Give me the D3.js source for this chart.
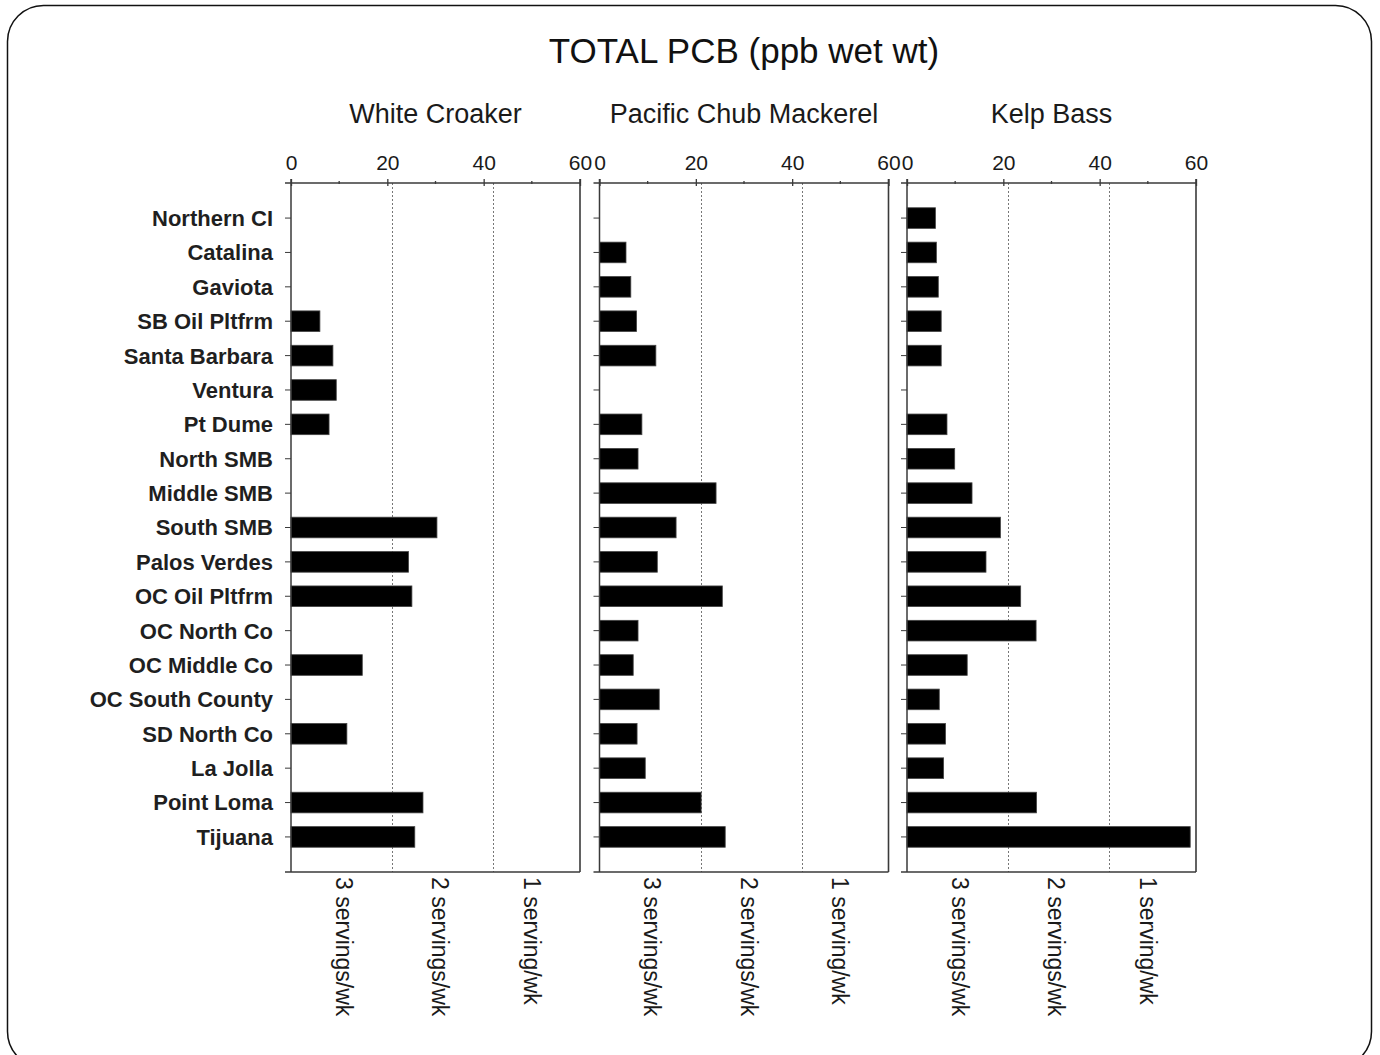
<!DOCTYPE html>
<html>
<head>
<meta charset="utf-8">
<script src="https://cdn.jsdelivr.net/npm/d3@7"></script>
<style>
  html, body { margin: 0; padding: 0; background: #fff; }
  svg { display: block; }
  text { font-family: "Liberation Sans", Arial, sans-serif; fill: #111; }
</style>
</head>
<body>
<svg id="chart" width="1380" height="1055"></svg>
<script>
// ---------------- data ----------------
const title = "TOTAL PCB (ppb wet wt)";
const species = ["White Croaker", "Pacific Chub Mackerel", "Kelp Bass"];
const stations = ["Northern CI", "Catalina", "Gaviota", "SB Oil Pltfrm", "Santa Barbara", "Ventura",
  "Pt Dume", "North SMB", "Middle SMB", "South SMB", "Palos Verdes", "OC Oil Pltfrm", "OC North Co",
  "OC Middle Co", "OC South County", "SD North Co", "La Jolla", "Point Loma", "Tijuana"];
const whiteCroaker = [null, null, null, 6.0, 8.7, 9.4, 7.9, null, null, 30.3, 24.4, 25.1, null,
  14.8, null, 11.6, null, 27.4, 25.7];
const pacificChubMackerel = [null, 5.5, 6.5, 7.7, 11.7, null, 8.8, 8.0, 24.2, 15.9, 12.0, 25.5, 8.0,
  7.0, 12.4, 7.8, 9.5, 21.1, 26.1];
const kelpBass = [5.9, 6.1, 6.5, 7.1, 7.1, null, 8.3, 9.9, 13.5, 19.4, 16.4, 23.6, 26.8,
  12.5, 6.7, 8.0, 7.6, 26.9, 58.8];
const xTicks = [0, 20, 40, 60];
const xMinorTicks = [10, 30, 50];
const thresholds = [21, 42];
const servingLabels = ["3 servings/wk", "2 servings/wk", "1 serving/wk"];
const servingLabelPos = [11, 31, 50];
const seriesList = [whiteCroaker, pacificChubMackerel, kelpBass];

// ---------------- layout ----------------
const svg = d3.select("#chart");
const panelX0 = [291, 599.5, 907];
const panelW = 289;
const plotTop = 183, plotBottom = 872;
const axisColor = "#3a3a3a";

// frame
svg.append("rect")
  .attr("x", 7.5).attr("y", 5.5).attr("width", 1364).attr("height", 1062)
  .attr("rx", 36).attr("ry", 36)
  .attr("fill", "none").attr("stroke", "#111").attr("stroke-width", 1.5);

svg.append("text")
  .attr("x", 744).attr("y", 63)
  .attr("text-anchor", "middle")
  .style("font-size", "35px")
  .text(title);

const y = d3.scaleBand().domain(stations).range([plotTop, plotBottom])
  .paddingInner(0.4).paddingOuter(0.72);

// category labels
svg.append("g").selectAll("text").data(stations).join("text")
  .attr("x", 273)
  .attr("y", d => y(d) + y.bandwidth() / 2)
  .attr("dy", "0.36em")
  .attr("text-anchor", "end")
  .style("font-size", "22px")
  .style("font-weight", "bold")
  .style("fill", "#1f1f1f")
  .text(d => d);

species.forEach((sp, i) => {
  const x0 = panelX0[i];
  const x = d3.scaleLinear().domain([0, 60]).range([x0, x0 + panelW]);
  const g = svg.append("g");
  const vals = seriesList[i];

  // panel title
  g.append("text")
    .attr("x", x(30)).attr("y", 123)
    .attr("text-anchor", "middle")
    .style("font-size", "27px")
    .style("fill", "#1a1a1a")
    .text(sp);

  // dotted threshold lines
  g.selectAll("line.th").data(thresholds).join("line")
    .attr("class", "th")
    .attr("x1", d => Math.round(x(d)) + 0.5).attr("x2", d => Math.round(x(d)) + 0.5)
    .attr("y1", plotTop).attr("y2", plotBottom)
    .attr("stroke", "#777").attr("stroke-width", 1)
    .attr("stroke-dasharray", "2,2");

  // bars
  g.selectAll("rect.bar").data(stations.map((s, k) => ({ s, v: vals[k] })).filter(d => d.v != null))
    .join("rect")
    .attr("class", "bar")
    .attr("x", x(0))
    .attr("y", d => y(d.s))
    .attr("width", d => x(d.v) - x(0))
    .attr("height", y.bandwidth())
    .attr("fill", "#000")
    .attr("stroke", "#444").attr("stroke-width", 0.8);

  // box: left, right, bottom
  g.append("line").attr("x1", x(0)).attr("x2", x(0)).attr("y1", plotTop - 4).attr("y2", plotBottom)
    .attr("stroke", axisColor).attr("stroke-width", 1.5);
  g.append("line").attr("x1", x(60)).attr("x2", x(60)).attr("y1", plotTop - 4).attr("y2", plotBottom)
    .attr("stroke", axisColor).attr("stroke-width", 1.6);
  g.append("line").attr("x1", x(0) - 6).attr("x2", x(60)).attr("y1", plotBottom).attr("y2", plotBottom)
    .attr("stroke", axisColor).attr("stroke-width", 1.5);

  // top axis
  const axTop = d3.axisTop(x).tickValues(xTicks).tickSize(4).tickPadding(9)
    .tickFormat(d3.format("d"));
  const ag = g.append("g").attr("transform", `translate(0,${plotTop})`).call(axTop);
  ag.select(".domain").remove();
  ag.append("line").attr("x1", x(0) - 6).attr("x2", x(60)).attr("y1", 0).attr("y2", 0)
    .attr("stroke", axisColor).attr("stroke-width", 1.5);
  ag.selectAll(".tick line").attr("stroke", axisColor).attr("stroke-width", 1.3).attr("y2", 3).attr("y1", -4);
  ag.selectAll(".tick text")
    .style("font-size", "21px").style("fill", "#1a1a1a")
    .style("font-family", '"Liberation Sans", Arial, sans-serif');
  // minor ticks
  g.selectAll("line.minor").data(xMinorTicks).join("line")
    .attr("class", "minor")
    .attr("x1", d => x(d)).attr("x2", d => x(d))
    .attr("y1", plotTop - 2).attr("y2", plotTop + 1)
    .attr("stroke", axisColor).attr("stroke-width", 1.3);

  // left category ticks
  const axLeft = d3.axisLeft(y).tickSize(6).tickFormat("");
  const lg = g.append("g").attr("transform", `translate(${x(0)},0)`).call(axLeft);
  lg.select(".domain").remove();
  lg.selectAll(".tick line").attr("stroke", axisColor).attr("stroke-width", 1);

  // serving labels (rotated)
  g.selectAll("text.serv").data(servingLabels).join("text")
    .attr("class", "serv")
    .attr("transform", (d, k) => `translate(${x(servingLabelPos[k])},${plotBottom + 5}) rotate(90)`)
    .attr("dy", "0.36em")
    .attr("text-anchor", "start")
    .style("font-size", "23px")
    .style("fill", "#1a1a1a")
    .text(d => d);
});
</script>
</body>
</html>
